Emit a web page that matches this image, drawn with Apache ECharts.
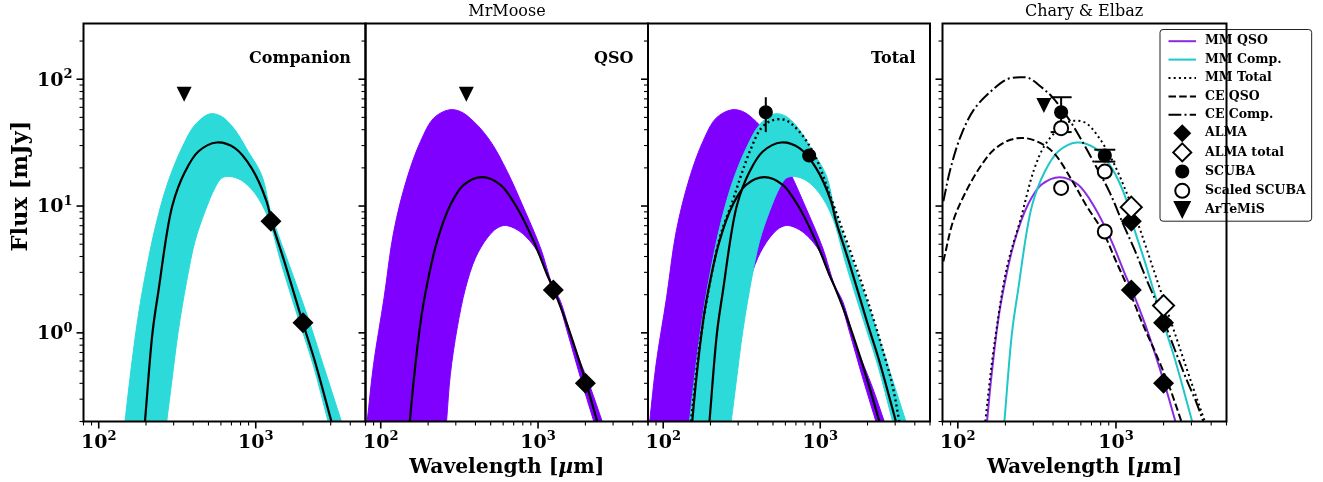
<!DOCTYPE html>
<html><head><meta charset="utf-8">
<script src="https://cdn.jsdelivr.net/npm/echarts@6/dist/echarts.min.js"></script>
<style>html,body{margin:0;padding:0;background:#fff}#c{width:1323px;height:482px}</style>
</head><body><div id="c"></div>
<script>
// ---------------- data ----------------
const xTickDecades = [10, 100, 1000];          // decades used for tick marks
const yTickDecades = [0.1, 1, 10, 100];
const xLabelValues = [100, 1000];
const yLabelValues = [1, 10, 100];

// MrMoose median SEDs (wavelength um, flux mJy)
const compMedian = [[197,0.2],[220,1.0],[240,2.13],[294,10],[355,18.7],[431,26.9],[564,31.7],[737,28.6],[941,19.9],[1172,10.9],[1261,7.57],[1531,3.56],[2003,1.18],[2377,0.60],[3034,0.2]];
const qsoMedian = [[153,0.2],[162,0.42],[175,0.97],[188,1.77],[228,5.26],[277,10.2],[337,14.7],[441,16.9],[577,14.7],[737,9.64],[939,5.26],[1143,2.88],[1259,2.18],[1531,1.16],[2023,0.40],[2377,0.2]];

// envelopes of the posterior sample curves
const compUpper = [[147,0.2],[161,0.53],[179,1.39],[202,3.25],[234,7.57],[277,15.6],[338,28.6],[410,43.6],[511,53.3],[607,50.8],[737,39.9],[895,26.9],[1089,17.6],[1261,8.54],[1690,3.06],[2155,1.31],[2685,0.562],[3513,0.2]];
const compLower = [[271,0.2],[292,0.416],[321,1.03],[363,2.55],[410,5.26],[475,9.07],[550,13.9],[607,16.6],[685,17.1],[813,15.9],[988,12.6],[1200,8.05],[1460,3.45],[1862,1.31],[2318,0.562],[2890,0.2]];
const qsoUpper = [[82,0.2],[90,0.562],[105,1.89],[121,6.31],[147,16.6],[179,32.3],[217,49.3],[271,57.3],[321,55.6],[390,46.4],[499,32.3],[637,18.7],[811,9.64],[1037,4.67],[1230,2.40],[1390,1.77],[1687,0.807],[2155,0.369],[2558,0.2]];
const qsoLower = [[262,0.2],[277,0.47],[306,1.09],[346,2.26],[400,3.90],[475,5.60],[550,6.71],[621,7.03],[737,6.50],[853,5.60],[988,4.40],[1143,2.80],[1324,1.89],[1531,1.03],[1862,0.442],[2262,0.2]];

// totals
const totalPanel3 = [[150,0.2],[175,1.0],[228,5.5],[277,11],[314,17.6],[363,28.6],[421,41.1],[487,47.0],[592,47.9],[719,39.9],[918,25.4],[1200,10.6],[1460,5.43],[1774,2.79],[2155,1.35],[2495,0.74],[2890,0.38],[3186,0.2]];
const totalPanel4 = [[149,0.2],[169,0.76],[205,3.34],[249,7.8],[303,19.3],[351,29.5],[416,38.7],[459,43.6],[544,47.0],[646,45.1],[785,34.3],[955,22.5],[1159,13.0],[1409,6.71],[1714,3.25],[2083,1.57],[2530,0.762],[3076,0.369],[3648,0.2]];

// Chary & Elbaz templates
const ceQso = [[81,3.66],[94,7.8],[114,13.4],[139,20.5],[169,27.8],[215,33.3],[268,34.3],[334,31.3],[406,26.1],[532,15.6],[646,10.2],[825,6.31],[1002,3.66],[1217,2.13],[1482,1.16],[1799,0.674],[2188,0.369],[2594,0.2]];
const ceComp = [[81,10.9],[89.5,19.3],[104,35.3],[126,57.3],[161,79.8],[205,100],[249,103.7],[282,102],[334,87.5],[397,72],[506,48],[615,32],[748,20.5],[908,13.0],[1105,7.3],[1310,4.53],[1593,2.48],[1889,1.52],[2353,0.739],[2792,0.429],[3230,0.281],[3565,0.2]];

// photometry
const almaComp = [[1250,7.57],[2000,1.2]];
const almaQso = [[1250,2.18],[2000,0.40]];
const almaTotal = [[1250,9.8],[2000,1.64]];
const scuba = [[450,55,38.3,72.1],[850,25,22.4,27.8]];   // lambda, flux, low, high
const scaledScuba = [[450,41.1],[450,13.9],[850,18.7],[850,6.3]];
const artemis = [[350,76]];
const artemisCE = [[350,62]];

// ---------------- styling ----------------
const FONT = 'DejaVu Serif';
const XMIN = 80, XMAX = 5000, YMIN = 0.2, YMAX = 275;
const PANEL_LEFT = [83.5, 365.5, 648, 942.5];
const PANEL_W = [282, 282.5, 282, 284];
const PURPLE = '#8000ff', CYAN = '#2bdad9';
const LINE_PURPLE = '#8a2be2', LINE_CYAN = '#1fc6ca';
const DIAMOND = 'path://M5,0 L10,5 L5,10 L0,5 Z';
const TRI_DOWN = 'path://M0,0 L10,0 L5,10 Z';
const CIRCLE = 'path://M0,0 M18,18 M9,2 C12.866,2 16,5.134 16,9 C16,12.866 12.866,16 9,16 C5.134,16 2,12.866 2,9 C2,5.134 5.134,2 9,2 Z';

function powLabel(v) {
  const e = Math.log10(v), r = Math.round(e);
  if (Math.abs(e - r) > 1e-6) return '';
  return '{b|10}{s|' + r + '}';
}
const RICH = {
  b: {fontFamily: FONT, fontWeight: 'bold', fontSize: 19, color: '#000', lineHeight: 22, verticalAlign: 'bottom'},
  s: {fontFamily: FONT, fontWeight: 'bold', fontSize: 13, color: '#000', lineHeight: 22, verticalAlign: 'top'}
};

const grids = PANEL_LEFT.map((l, i) => ({left: l, top: 23.5, width: PANEL_W[i], height: 398, show: false, containLabel: false, outerBoundsMode: 'none'}));
const xAxes = PANEL_LEFT.map((l, i) => ({
  type: 'log', logBase: 10, gridIndex: i, min: XMIN, max: XMAX,
  axisLine: {show: false}, axisTick: {show: false}, splitLine: {show: false}, minorTick: {show: false},
  axisLabel: {formatter: powLabel, rich: RICH, margin: 9, showMinLabel: false, showMaxLabel: false},
  name: (i === 1 || i === 3) ? 'Wavelength [{i|µ}m]' : '',
  nameLocation: 'middle', nameGap: 33,
  nameTextStyle: {fontFamily: FONT, fontWeight: 'bold', fontSize: 20.3, color: '#000',
    rich: {i: {fontFamily: FONT, fontWeight: 'bold', fontStyle: 'italic', fontSize: 20.3, color: '#000'}}}
}));
const yAxes = PANEL_LEFT.map((l, i) => ({
  type: 'log', logBase: 10, gridIndex: i, min: YMIN, max: YMAX,
  axisLine: {show: false}, axisTick: {show: false}, splitLine: {show: false}, minorTick: {show: false},
  axisLabel: {show: i === 0, formatter: powLabel, rich: RICH, margin: 11, showMinLabel: false, showMaxLabel: false}
}));

function tickValues(decades, lo, hi) {
  const out = [];
  decades.forEach(d => { for (let k = 1; k <= 9; k++) { const v = +(k * d).toPrecision(6); if (v >= lo * 0.9999 && v <= hi * 1.0001) out.push(v); } });
  return out;
}
const xTicks = tickValues(xTickDecades, XMIN, XMAX);
const yTicks = tickValues(yTickDecades, YMIN, YMAX);
function isMajor(v) { const e = Math.log10(v); return Math.abs(e - Math.round(e)) < 1e-6; }

function tickSeries(gi, axis) {
  const vals = axis === 'x' ? xTicks.map(v => [v, YMIN]) : yTicks.map(v => [XMIN, v]);
  return {
    type: 'custom', xAxisIndex: gi, yAxisIndex: gi, silent: true, z: 6, clip: false, data: vals,
    renderItem(params, api) {
      const x = api.value(0), y = api.value(1);
      const v = axis === 'x' ? x : y;
      const major = isMajor(v), len = major ? 7 : 4;
      const p = api.coord([x, y]);
      const shape = axis === 'x' ? {x1: p[0], y1: p[1], x2: p[0], y2: p[1] + len} : {x1: p[0] - len, y1: p[1], x2: p[0], y2: p[1]};
      return {type: 'line', shape, style: {stroke: '#000', lineWidth: major ? 1.6 : 1.1}};
    }
  };
}
function frameSeries(gi) {
  return {
    type: 'custom', xAxisIndex: gi, yAxisIndex: gi, silent: true, z: 7, clip: false, data: [[XMIN, YMIN]],
    renderItem(params) {
      const c = params.coordSys;
      return {type: 'rect', shape: {x: c.x, y: c.y, width: c.width, height: c.height}, style: {fill: null, stroke: '#000', lineWidth: 2}};
    }
  };
}
// centripetal Catmull-Rom path through pixel points
function smoothSeg(pts, s, start) {
  const n = pts.length;
  let d = (start ? 'M' : 'L') + pts[0][0] + ',' + pts[0][1];
  const P = i => {
    if (i < 0) return [2 * pts[0][0] - pts[1][0], 2 * pts[0][1] - pts[1][1]];
    if (i >= n) return [2 * pts[n - 1][0] - pts[n - 2][0], 2 * pts[n - 1][1] - pts[n - 2][1]];
    return pts[i];
  };
  const dist = (a, b) => Math.max(Math.pow(Math.hypot(b[0] - a[0], b[1] - a[1]), 0.5), 1e-6);
  for (let i = 0; i < n - 1; i++) {
    const p0 = P(i - 1), p1 = P(i), p2 = P(i + 1), p3 = P(i + 2);
    const t01 = dist(p0, p1), t12 = dist(p1, p2), t23 = dist(p2, p3);
    const m1 = [0, 1].map(k => p2[k] - p1[k] + t12 * ((p1[k] - p0[k]) / t01 - (p2[k] - p0[k]) / (t01 + t12)));
    const m2 = [0, 1].map(k => p2[k] - p1[k] + t12 * ((p3[k] - p2[k]) / t23 - (p3[k] - p1[k]) / (t12 + t23)));
    const c1 = [p1[0] + m1[0] / 3, p1[1] + m1[1] / 3], c2 = [p2[0] - m2[0] / 3, p2[1] - m2[1] / 3];
    d += 'C' + c1[0] + ',' + c1[1] + ' ' + c2[0] + ',' + c2[1] + ' ' + p2[0] + ',' + p2[1];
  }
  return d;
}
function bandSeries(gi, upper, lower, color, name) {
  return {
    name, type: 'custom', xAxisIndex: gi, yAxisIndex: gi, silent: true, z: 1, clip: true, data: upper,
    renderItem(params, api) {
      if (params.dataIndex !== 0) return;
      const up = upper.map(p => api.coord(p));
      const lo = lower.slice().reverse().map(p => api.coord(p));
      const d = smoothSeg(up, 0, true) + smoothSeg(lo, 0, false) + 'Z';
      return {type: 'path', shape: {pathData: d}, style: {fill: color, stroke: color, lineWidth: 1}};
    }
  };
}
function curveSeries(gi, data, color, width, dash, name) {
  return {
    name, type: 'custom', xAxisIndex: gi, yAxisIndex: gi, silent: true, z: 2, clip: true, data,
    renderItem(params, api) {
      if (params.dataIndex !== 0) return;
      const pts = data.map(p => api.coord(p));
      return {type: 'path', shape: {pathData: smoothSeg(pts, 0, true)},
        style: {fill: 'none', stroke: color, lineWidth: width, lineDash: dash || null, lineCap: 'butt', lineJoin: 'round'}};
    }
  };
}
// legend-only line entries (style carriers for the legend icons)
function legendLine(gi, color, width, dash, name) {
  return {name, type: 'line', xAxisIndex: gi, yAxisIndex: gi, data: [], symbol: 'none', showSymbol: false, silent: true,
    lineStyle: {color, width, type: dash || 'solid', cap: 'butt'}, itemStyle: {color}};
}
function scatterSeries(gi, data, symbol, size, fill, name, border) {
  return {
    name, type: 'scatter', xAxisIndex: gi, yAxisIndex: gi, data, symbol, symbolSize: size, symbolKeepAspect: true,
    z: 4, silent: true,
    itemStyle: {color: fill, borderColor: '#000', borderWidth: border || 0, opacity: 1}
  };
}
function errSeries(gi, data, cap, name) {
  return {
    name, type: 'custom', xAxisIndex: gi, yAxisIndex: gi, silent: true, z: 3, clip: false, data,
    encode: {x: 0, y: 1},
    renderItem(params, api) {
      const x = api.value(0);
      const a = api.coord([x, api.value(2)]), b = api.coord([x, api.value(3)]);
      const st = {stroke: '#000', lineWidth: 2};
      const ch = [{type: 'line', shape: {x1: a[0], y1: a[1], x2: b[0], y2: b[1]}, style: st}];
      if (cap) {
        ch.push({type: 'line', shape: {x1: a[0] - cap, y1: a[1], x2: a[0] + cap, y2: a[1]}, style: st});
        ch.push({type: 'line', shape: {x1: b[0] - cap, y1: b[1], x2: b[0] + cap, y2: b[1]}, style: st});
      }
      return {type: 'group', children: ch};
    }
  };
}

const DOT = [2, 3.2], DASH = [7.5, 3.2], DASHDOT = [12.8, 3.2, 2, 3.2];
const scubaPts = scuba.map(d => [d[0], d[1]]);

const series = [
  // panel 1 : Companion
  bandSeries(0, compUpper, compLower, CYAN, 'compBand1'),
  curveSeries(0, compMedian, '#000', 2.2, null, 'compMed1'),
  scatterSeries(0, artemis, TRI_DOWN, 15, '#000', 'art1'),
  scatterSeries(0, almaComp, DIAMOND, 21, '#000', 'alma1'),
  // panel 2 : QSO
  bandSeries(1, qsoUpper, qsoLower, PURPLE, 'qsoBand2'),
  curveSeries(1, qsoMedian, '#000', 2.2, null, 'qsoMed2'),
  scatterSeries(1, artemis, TRI_DOWN, 15, '#000', 'art2'),
  scatterSeries(1, almaQso, DIAMOND, 21, '#000', 'alma2'),
  // panel 3 : Total
  bandSeries(2, qsoUpper, qsoLower, PURPLE, 'qsoBand3'),
  bandSeries(2, compUpper, compLower, CYAN, 'compBand3'),
  curveSeries(2, qsoMedian, '#000', 2.2, null, 'qsoMed3'),
  curveSeries(2, compMedian, '#000', 2.2, null, 'compMed3'),
  curveSeries(2, totalPanel3, '#000', 2.4, DOT, 'tot3'),
  errSeries(2, scuba, 0, 'err3'),
  scatterSeries(2, scubaPts, CIRCLE, 18, '#000', 'scuba3'),
  // panel 4 : Chary & Elbaz
  legendLine(3, LINE_PURPLE, 2, null, 'MM QSO'),
  legendLine(3, LINE_CYAN, 2, null, 'MM Comp.'),
  legendLine(3, '#000', 2, DOT, 'MM Total'),
  legendLine(3, '#000', 2, DASH, 'CE QSO'),
  legendLine(3, '#000', 2, DASHDOT, 'CE Comp.'),
  curveSeries(3, qsoMedian, LINE_PURPLE, 2, null, 'mmQso4'),
  curveSeries(3, compMedian, LINE_CYAN, 2, null, 'mmComp4'),
  curveSeries(3, totalPanel4, '#000', 2, DOT, 'mmTot4'),
  curveSeries(3, ceQso, '#000', 2, DASH, 'ceQso4'),
  curveSeries(3, ceComp, '#000', 2, DASHDOT, 'ceComp4'),
  scatterSeries(3, almaComp.concat(almaQso), DIAMOND, 21, '#000', 'ALMA'),
  scatterSeries(3, almaTotal, DIAMOND, 21, '#fff', 'ALMA total', 2),
  errSeries(3, scuba, 10.5, 'err4'),
  scatterSeries(3, scubaPts, CIRCLE, 18, '#000', 'SCUBA'),
  scatterSeries(3, scaledScuba, CIRCLE, 18, '#fff', 'Scaled SCUBA', 2),
  scatterSeries(3, artemisCE, TRI_DOWN, 15, '#000', 'ArTeMiS')
];
for (let i = 0; i < 4; i++) { series.push(tickSeries(i, 'x'), tickSeries(i, 'y'), frameSeries(i)); }

const txt = (text, x, y, size, weight, align, rot) => ({
  type: 'text', x, y, rotation: rot || 0, silent: true, z: 10,
  style: {text, fontFamily: FONT, fontSize: size, fontWeight: weight, fill: '#000', align, verticalAlign: 'middle'}
});

const option = {
  animation: false,
  backgroundColor: '#fff',
  grid: grids, xAxis: xAxes, yAxis: yAxes, series,
  legend: {
    orient: 'vertical', left: 1160, top: 29.5, padding: [2.5, 6, 2, 7.5],
    itemWidth: 27.5, itemHeight: 18, itemGap: 0, selectedMode: false,
    backgroundColor: '#fff', borderColor: '#222', borderWidth: 1, borderRadius: 3,
    textStyle: {fontFamily: FONT, fontWeight: 'bold', fontSize: 12.5, color: '#000', lineHeight: 18.4, padding: [0, 0, 0, 4]},
    data: [
      {name: 'MM QSO', itemStyle: {opacity: 0}},
      {name: 'MM Comp.', itemStyle: {opacity: 0}},
      {name: 'MM Total', itemStyle: {opacity: 0}},
      {name: 'CE QSO', itemStyle: {opacity: 0}},
      {name: 'CE Comp.', itemStyle: {opacity: 0}},
      'ALMA', 'ALMA total', 'SCUBA', 'Scaled SCUBA', 'ArTeMiS'
    ]
  },
  graphic: [
    txt('MrMoose', 507, 12, 16, 'normal', 'center'),
    txt('Chary & Elbaz', 1084, 12, 16, 'normal', 'center'),
    txt('Companion', 351, 58.5, 16, 'bold', 'right'),
    txt('QSO', 633.5, 58.5, 16, 'bold', 'right'),
    txt('Total', 915.5, 58.5, 16, 'bold', 'right'),
    txt('Flux [mJy]', 21.5, 186, 22.5, 'bold', 'center', Math.PI / 2)
  ]
};
const chart = echarts.init(document.getElementById('c'), null, {renderer: 'canvas'});
chart.setOption(option);
</script></body></html>
